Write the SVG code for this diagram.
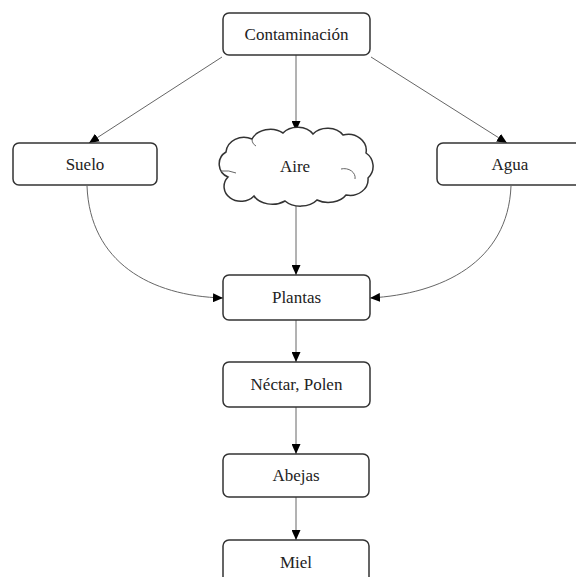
<svg xmlns="http://www.w3.org/2000/svg" width="576" height="577" viewBox="0 0 576 577">
<style>
.box{fill:#fff;stroke:#333;stroke-width:1.5}
.lbl{font-family:"Liberation Serif","Times New Roman",serif;font-size:17px;fill:#222;text-anchor:middle;dominant-baseline:central}
.con{fill:none;stroke:#666;stroke-width:1}
</style>
<defs>
<marker id="ah" markerUnits="userSpaceOnUse" markerWidth="10" markerHeight="9" refX="10" refY="4.5" orient="auto">
<path d="M0,0 L10,4.5 L0,9 z" fill="#000"/>
</marker>
</defs>
<rect width="576" height="577" fill="#fff"/>
<g id="connectors">
<line class="con" x1="222" y1="57" x2="89" y2="143" marker-end="url(#ah)"/>
<line class="con" x1="296" y1="55" x2="296" y2="131" marker-end="url(#ah)"/>
<line class="con" x1="371" y1="57" x2="507" y2="143" marker-end="url(#ah)"/>
<path class="con" d="M87,186 C90,262 150,296 223,298" marker-end="url(#ah)"/>
<path class="con" d="M511,186 C508,262 442,294 370,298" marker-end="url(#ah)"/>
<line class="con" x1="296" y1="203" x2="296" y2="275" marker-end="url(#ah)"/>
<line class="con" x1="296" y1="320" x2="296" y2="362" marker-end="url(#ah)"/>
<line class="con" x1="296" y1="407" x2="296" y2="454" marker-end="url(#ah)"/>
<line class="con" x1="296" y1="497" x2="296" y2="540" marker-end="url(#ah)"/>
</g>
<g id="contaminacion">
<rect class="box" x="223" y="13" width="147" height="42" rx="6"/>
<text class="lbl" x="296.5" y="34">Contaminación</text>
</g>
<g id="suelo">
<rect class="box" x="13" y="143" width="144" height="42" rx="6"/>
<text class="lbl" x="85" y="164">Suelo</text>
</g>
<g id="aire">
<path class="box" d="M228,177 A14,14 0 0 1 226,152 A18,16 0 0 1 252,139 A20,16 0 0 1 283,133 A18,14 0 0 1 313,134 A18,14 0 0 1 343,135 A18,16 0 0 1 366,153 A16,16 0 0 1 368,178 A18,16 0 0 1 346,195 A20,14 0 0 1 317,200 A20,14 0 0 1 285,201 A20,14 0 0 1 254,196 A16,14 0 0 1 228,177 Z"/>
<path class="con" d="M221,171 Q229,170 236,173 M341,169 A11,9 0 0 1 355,179 M252,139 A8,8 0 0 0 256,146" stroke="#333"/>
<text class="lbl" x="295" y="166">Aire</text>
</g>
<g id="agua">
<rect class="box" x="437" y="143" width="146" height="42" rx="6"/>
<text class="lbl" x="510" y="164">Agua</text>
</g>
<g id="plantas">
<rect class="box" x="223" y="275" width="147" height="45" rx="6"/>
<text class="lbl" x="296.5" y="297.5">Plantas</text>
</g>
<g id="nectar">
<rect class="box" x="223" y="362" width="147" height="45" rx="6"/>
<text class="lbl" x="296.5" y="384.5">Néctar, Polen</text>
</g>
<g id="abejas">
<rect class="box" x="223" y="454" width="146" height="43" rx="6"/>
<text class="lbl" x="296" y="475.5">Abejas</text>
</g>
<g id="miel">
<rect class="box" x="223" y="540" width="146" height="50" rx="6"/>
<text class="lbl" x="296" y="562">Miel</text>
</g>
</svg>
